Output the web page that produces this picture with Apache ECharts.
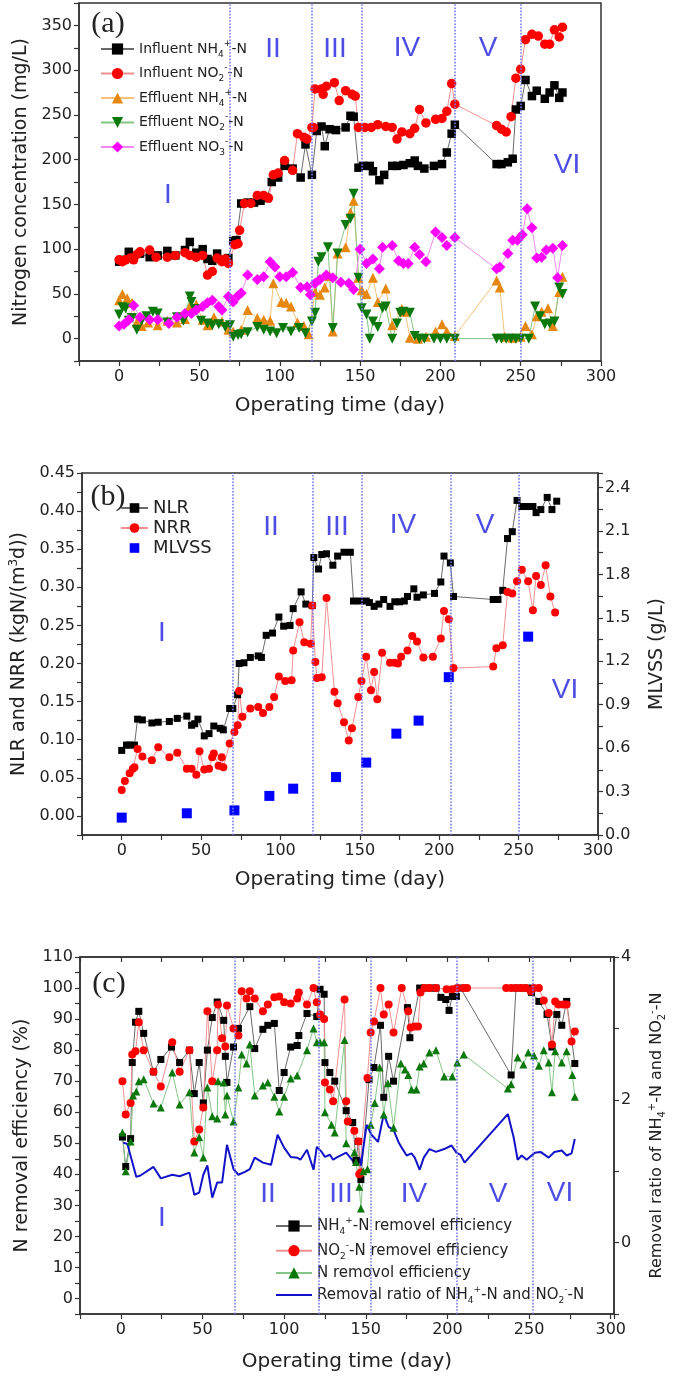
<!DOCTYPE html>
<html><head><meta charset="utf-8">
<script src="https://cdn.jsdelivr.net/npm/echarts@6/dist/echarts.min.js"></script>
<style>html,body{margin:0;padding:0;background:#fff}#c{width:675px;height:1377px}</style>
</head><body><div id="c"></div>
<script>
// ---------- Panel (a) data: [day, mg/L] ----------
const infNH4 = [[0,86],[3,88],[6,97],[9,92],[13,95],[19,91],[24,93],[30,98],[35,93],[41,99],[44,108],[48,96],[52,100],[55,89],[58,87],[61,95],[64,88],[68,90],[71,109],[73,110],[76,151],[80,152],[84,152],[88,154],[92,157],[95,175],[99,180],[103,193],[108,190],[113,180],[116,217],[120,183],[123,232],[126,237],[128,215],[131,234],[135,233],[141,236],[144,249],[146,248],[149,191],[152,193],[156,193],[158,187],[162,177],[165,183],[170,193],[173,193],[177,194],[181,196],[184,199],[186,193],[190,190],[196,193],[201,195],[204,208],[207,229],[209,239],[235,195],[238,195],[242,197],[245,201],[247,256],[250,260],[253,289],[257,271],[260,277],[265,268],[268,275],[271,283],[274,269],[276,275]];
const infNO2 = [[0,88],[2,86],[4,88],[7,90],[9,88],[11,94],[13,97],[19,99],[23,91],[30,91],[35,93],[41,96],[44,93],[48,91],[52,93],[55,71],[58,75],[61,90],[64,86],[66,89],[68,84],[72,105],[74,106],[75,121],[78,151],[82,151],[86,160],[90,160],[93,157],[96,183],[99,185],[103,199],[108,188],[111,229],[115,225],[117,223],[120,236],[121,236],[122,279],[126,279],[127,273],[129,282],[134,286],[137,266],[141,277],[145,273],[147,271],[149,236],[153,236],[157,236],[161,239],[166,237],[170,236],[173,223],[176,231],[181,229],[184,235],[187,256],[191,241],[197,245],[201,246],[204,254],[207,285],[209,262],[235,238],[238,234],[241,231],[244,248],[247,291],[250,301],[253,334],[257,340],[261,338],[265,329],[268,329],[271,345],[274,337],[276,348]];
const effNH4 = [[0,43],[2,50],[5,45],[8,40],[11,18],[14,14],[18,18],[24,15],[30,20],[36,18],[41,22],[44,36],[48,38],[52,21],[55,15],[59,24],[64,19],[68,10],[71,8],[76,10],[80,32],[86,23],[90,21],[94,20],[96,62],[101,41],[104,40],[107,36],[111,18],[115,14],[118,5],[122,52],[125,49],[128,57],[131,70],[133,8],[136,95],[141,102],[144,141],[146,154],[149,68],[151,54],[154,50],[158,68],[161,41],[166,56],[170,15],[176,33],[178,30],[181,1],[186,0],[191,2],[197,8],[201,16],[204,8],[209,3],[235,65],[237,57],[240,2],[245,1],[250,2],[253,14],[257,5],[260,25],[263,30],[267,34],[270,14],[274,52],[276,69]];
const effNO2 = [[0,27],[2,35],[4,34],[6,20],[8,23],[11,10],[14,20],[17,25],[21,30],[24,28],[30,18],[36,24],[40,20],[44,47],[45,41],[47,33],[51,20],[55,17],[58,15],[62,16],[66,13],[69,15],[71,2],[74,4],[76,5],[80,7],[86,13],[90,10],[94,8],[98,6],[102,12],[107,8],[112,12],[116,6],[120,19],[122,29],[124,86],[126,91],[130,102],[133,12],[136,95],[141,127],[144,134],[146,162],[149,68],[151,34],[154,27],[156,0],[158,19],[161,13],[164,34],[166,36],[170,0],[173,17],[175,29],[177,30],[181,29],[184,3],[187,0],[190,0],[196,0],[200,0],[204,0],[209,0],[235,0],[238,0],[241,0],[244,0],[247,0],[250,0],[255,0],[259,36],[262,25],[265,16],[268,17],[271,19],[274,57],[276,50]];
const effNO3 = [[0,14],[3,16],[6,21],[9,37],[13,24],[19,21],[24,21],[31,17],[36,24],[41,28],[45,28],[48,32],[52,36],[55,40],[58,43],[62,36],[64,32],[68,47],[71,41],[74,48],[76,51],[80,71],[86,66],[90,69],[94,86],[97,80],[100,69],[104,69],[108,74],[113,57],[117,58],[119,49],[122,62],[125,66],[129,71],[133,68],[138,63],[143,62],[146,55],[150,100],[154,84],[158,89],[162,78],[164,102],[170,104],[174,87],[177,84],[180,84],[184,102],[187,94],[191,86],[197,119],[201,113],[204,104],[209,113],[235,78],[237,80],[242,95],[245,110],[248,110],[251,116],[254,145],[257,124],[260,90],[263,91],[266,99],[270,101],[273,68],[276,104]];

// ---------- Panel (b) data ----------
const NLR = [[0,0.086],[3,0.093],[5,0.093],[8,0.093],[10,0.127],[13,0.126],[19,0.122],[23,0.123],[30,0.124],[35,0.128],[41,0.131],[44,0.119],[46,0.121],[48,0.127],[52,0.105],[55,0.108],[58,0.118],[62,0.115],[64,0.113],[68,0.141],[70,0.141],[73,0.159],[74,0.2],[77,0.201],[81,0.208],[86,0.21],[88,0.208],[91,0.237],[95,0.24],[99,0.261],[102,0.249],[106,0.25],[108,0.272],[113,0.294],[116,0.278],[120,0.276],[121,0.339],[124,0.324],[126,0.343],[129,0.344],[133,0.329],[136,0.341],[140,0.346],[144,0.346],[146,0.282],[150,0.282],[154,0.282],[156,0.28],[159,0.275],[162,0.278],[165,0.284],[169,0.275],[172,0.281],[175,0.281],[178,0.282],[180,0.288],[184,0.298],[186,0.287],[190,0.29],[197,0.292],[201,0.307],[203,0.341],[207,0.332],[209,0.288],[234,0.284],[237,0.284],[240,0.296],[243,0.364],[246,0.373],[249,0.414],[252,0.406],[255,0.406],[259,0.406],[261,0.398],[264,0.402],[268,0.418],[271,0.402],[274,0.413]];
const NRR = [[0,0.034],[2,0.046],[5,0.056],[7,0.062],[8,0.064],[10,0.088],[13,0.078],[19,0.073],[23,0.09],[30,0.077],[35,0.083],[41,0.062],[44,0.062],[47,0.054],[49,0.085],[52,0.061],[55,0.062],[57,0.077],[58,0.082],[61,0.066],[63,0.077],[64,0.064],[68,0.095],[71,0.11],[73,0.119],[74,0.164],[76,0.13],[81,0.141],[86,0.143],[89,0.135],[93,0.143],[96,0.156],[99,0.183],[103,0.177],[107,0.178],[108,0.217],[112,0.254],[115,0.228],[119,0.226],[120,0.276],[122,0.202],[123,0.181],[126,0.182],[129,0.286],[134,0.163],[136,0.148],[140,0.123],[143,0.099],[145,0.115],[149,0.156],[151,0.177],[154,0.209],[157,0.165],[159,0.189],[161,0.153],[164,0.214],[169,0.201],[172,0.201],[174,0.2],[176,0.209],[180,0.217],[183,0.236],[186,0.229],[190,0.208],[196,0.209],[201,0.233],[203,0.269],[206,0.258],[209,0.194],[234,0.196],[236,0.22],[240,0.224],[243,0.294],[246,0.292],[249,0.308],[252,0.323],[256,0.308],[259,0.27],[261,0.315],[264,0.303],[267,0.329],[270,0.288],[273,0.267]];
const MLVSS = [[0,0.12],[41,0.15],[71,0.17],[93,0.27],[108,0.32],[135,0.40],[154,0.50],[173,0.70],[187,0.79],[206,1.09],[256,1.37]];

// ---------- Panel (c) data ----------
const remNH4 = [[1,52],[3,42.5],[6,51.5],[7,76],[9,89],[11,92.5],[14,85.4],[20,73],[24.5,77],[31,81],[36,76],[42,80],[45,66],[48,76],[50.5,63],[53,80],[56,90.5],[59,95.5],[63,89.6],[64,78],[65,69.6],[69,81],[72,87],[79,94],[82,80.5],[87,86.7],[90,88],[94,88.6],[97,67],[100,72.8],[104,81],[108,81.5],[109,84.7],[114,91.8],[120,90.8],[122,99.6],[124.5,98],[125,76],[128,72.8],[131,70],[138,60.5],[142,56.7],[144,44.5],[145.5,50.6],[147,38.3],[152,70.5],[155,74.4],[159,88],[161,64.8],[164,78],[167,70],[175.5,93.7],[177,84],[183,100],[186,100],[190,100],[193,100],[196,97],[199,96.3],[201,92.8],[203,97.3],[205.5,97.3],[208,100],[239,72],[242,100],[246,100],[250,100],[251.5,98.6],[256,95.7],[261,91.5],[264,81],[267,91.5],[270,88],[273,95.7],[278,75.7]];
const remNO2 = [[1,70],[3,59.3],[6,63],[7,78.6],[9,79.6],[11,89],[14,80],[20,73],[24.5,68.3],[31.5,82.5],[36,73],[42,80],[45,50.6],[48,54.4],[50.5,61.5],[53,92.5],[56,70],[59,80],[59.5,94.7],[62,83.8],[64,81.2],[65,94.4],[69,87],[72,84.7],[74,99],[77,96.6],[79,99],[82,96.6],[87,92.5],[90,94.7],[94,97],[97,97.3],[100,95.4],[104,95],[108,96.6],[109,98.6],[114,94.7],[118,100],[120,95.4],[122,91.5],[124.5,90],[125,69.6],[128,67.3],[130,63.5],[137,96.3],[138,63.5],[139,57],[143,54],[145.5,50.6],[146,40],[147,40.6],[151,71],[153,85.7],[155,89.2],[159,100],[161,91.5],[164,94.7],[167,85.7],[172,100],[176,92.5],[177.5,87.3],[180,87.6],[182,87.6],[183.5,98.6],[186,100],[189,100],[193,100],[199.5,99.6],[203,99.6],[206,100],[210,100],[212,100],[236,100],[239,100],[242,100],[245,100],[248,100],[251,99],[253,100],[256,100],[259,96],[262,92],[264,81.8],[266,95.7],[268,94.7],[271,94.7],[273,94.7],[276,82.8],[278,86]];
const remN = [[1,53.5],[3,41],[6,50.6],[7.5,65.4],[9.5,66.7],[11,70],[14,70.6],[20,62.8],[24.5,61.5],[31.5,72.8],[36,62.5],[42,66.4],[45,47],[48,51.9],[50.5,45.4],[53,68],[56,58.7],[59,58],[59.5,70],[63,69.6],[64,59.3],[65,65.4],[69,57],[72,68],[74,78.6],[77,75.7],[79,81.8],[82,65.4],[87,68.6],[90,69.6],[94,65],[97,60.2],[100,65],[104,70.9],[108,71.8],[114,80],[118,87],[120,82.5],[122,82.5],[124.5,82.5],[125,60],[129,56],[131,53.5],[137,83.3],[138,50],[143,47],[144,44],[146,36],[147,29],[148.5,41],[151,41.6],[153,56],[155.5,63],[158.5,74.4],[161,59.3],[163.5,69.3],[167,55],[171.5,75.7],[174,73.8],[176,72],[178,67.3],[181,67.3],[183,74.7],[185.5,75.7],[189,79.2],[193,80],[198,71.5],[203,71.5],[206,76],[210,78.6],[237,67.6],[239,69],[243,77.6],[246.5,75.4],[249.5,79.2],[253,78.3],[256,75],[259,80],[262,76],[264,66.4],[266,79.6],[270,76],[273,79.6],[276.5,72],[278,65]];
const ratio = [[1.5,1.40],[4,1.38],[9.5,0.92],[12,0.94],[20,1.06],[24.5,0.9],[31.5,0.95],[36,0.93],[42,0.98],[45,0.67],[48,0.7],[50.5,0.95],[53,1.08],[56,0.63],[59,0.84],[62,0.84],[65,1.37],[69,1.03],[72,0.95],[76,0.99],[79,1.03],[82,1.19],[87,1.12],[92,1.09],[96,1.51],[100,1.33],[104,1.2],[108,1.19],[110,1.16],[114,1.3],[118,1.02],[120,1.34],[123,1.27],[125,1.2],[128,1.23],[130,1.16],[132,1.19],[138,1.26],[143,1.12],[146,1.19],[147,1.08],[150.5,1.65],[153.5,1.51],[157.5,1.41],[161,1.8],[164,1.62],[167,1.58],[170,1.41],[172,1.33],[175,1.22],[178,1.25],[180,1.19],[183,1.02],[185.5,1.19],[189,1.31],[193,1.27],[198,1.31],[202.5,1.36],[205.5,1.26],[208,1.23],[210.5,1.12],[237,1.8],[240.5,1.48],[243,1.16],[245.5,1.22],[248.5,1.16],[253.5,1.26],[257,1.27],[262,1.19],[265.5,1.27],[270,1.29],[273,1.22],[276,1.25],[278,1.45]];

// phase boundaries (day) and phase names
const boundsA = [69, 120, 151, 209, 250];
const boundsB = [70, 120.5, 151, 207, 250];
const boundsC = [69.5, 121.5, 153, 205.5, 252];
const phases = ['I','II','III','IV','V','VI'];

// ---------- styling ----------
const FONT = 'DejaVu Sans';
const AXC = '#333';
function rich(fs, lh) {
  return {
    n: {fontFamily: FONT, fontSize: fs, lineHeight: lh, color: '#222'},
    sub: {fontFamily: FONT, fontSize: Math.round(fs*0.62), lineHeight: Math.round(fs*0.7), verticalAlign: 'bottom', color: '#222'},
    sup: {fontFamily: FONT, fontSize: Math.round(fs*0.62), lineHeight: Math.round(fs*0.7), verticalAlign: 'top', color: '#222'}
  };
}
const LEG = {
  'Influent NH4+-N': '{n|Influent NH}{sub|4}{sup|+}{n|-N}',
  'Influent NO2--N': '{n|Influent NO}{sub|2}{sup|-}{n|-N}',
  'Effluent NH4+-N': '{n|Effluent NH}{sub|4}{sup|+}{n|-N}',
  'Effluent NO2--N': '{n|Effluent NO}{sub|2}{sup|-}{n|-N}',
  'Effluent NO3--N': '{n|Effluent NO}{sub|3}{sup|-}{n|-N}',
  'NLR': '{n|NLR}', 'NRR': '{n|NRR}', 'MLVSS': '{n|MLVSS}',
  'NH4+-N removel efficiency': '{n|NH}{sub|4}{sup|+}{n|-N removel efficiency}',
  'NO2--N removel efficiency': '{n|NO}{sub|2}{sup|-}{n|-N removel efficiency}',
  'N removol efficiency': '{n|N removol efficiency}',
  'Removal ratio of NH4+-N and NO2--N': '{n|Removal ratio of NH}{sub|4}{sup|+}{n|-N and NO}{sub|2}{sup|-}{n|-N}'
};

const every = (step) => (v) => (Math.abs(Math.round(v*1000) % Math.round(step*1000)) === 0 ? String(v) : '');
function xAxisFor(grid, max) {
  return {
    type: 'value', gridIndex: grid, min: -25, max: max, interval: 25,
    name: 'Operating time (day)', nameLocation: 'middle', nameGap: grid === 2 ? 38 : 35,
    nameTextStyle: {fontFamily: FONT, fontSize: 20, color: '#222'},
    axisLine: {show: true, onZero: false, lineStyle: {color: AXC, width: 1.5}},
    axisTick: {show: true, length: 5, lineStyle: {color: AXC, width: 1.2}},
    axisLabel: {fontFamily: FONT, fontSize: 16, color: '#222', margin: 8, formatter: every(50)},
    splitLine: {show: false}
  };
}
function yAxisBase(grid, o) {
  return Object.assign({
    type: 'value', gridIndex: grid, nameLocation: 'middle',
    nameTextStyle: {fontFamily: FONT, fontSize: 19, color: '#222'},
    axisLine: {show: true, onZero: false, lineStyle: {color: AXC, width: 1.5}},
    axisTick: {show: true, length: 5, lineStyle: {color: AXC, width: 1.2}},
    splitLine: {show: false}
  }, o);
}
const lbl = (fmt) => ({fontFamily: FONT, fontSize: 16, color: '#222', margin: 7, formatter: fmt});

function ser(name, data, xi, yi, sym, size, color, lineColor, extra) {
  return Object.assign({
    name, type: 'line', data, xAxisIndex: xi, yAxisIndex: yi,
    symbol: sym, symbolSize: size, showSymbol: true,
    itemStyle: {color: color, borderWidth: 0},
    lineStyle: {color: lineColor, width: 1},
    emphasis: {disabled: true}, silent: true, animation: false
  }, extra || {});
}
function marks(bounds) {
  return {
    silent: true, symbol: ['none','none'], label: {show: false},
    lineStyle: {color: '#7878ee', type: 'dotted', width: 1.6},
    data: bounds.map(d => ({xAxis: d})), animation: false
  };
}

const BLK = '#000', BLKL = '#6a6a6a', RED = '#ff0000', REDL = '#f29090', ORG = '#e6870f', ORGL = '#f5c27a',
      GRN = '#0b780b', GRNL = '#85c685', MAG = '#ff00ff', MAGL = '#f08af0', BLU = '#1212c8';

const series = [
  ser('Influent NH4+-N', infNH4, 0, 0, 'rect', 8.5, BLK, BLKL, {markLine: marks(boundsA)}),
  ser('Influent NO2--N', infNO2, 0, 0, 'circle', 9.5, RED, REDL),
  ser('Effluent NH4+-N', effNH4, 0, 0, 'triangle', 10, ORG, ORGL),
  ser('Effluent NO2--N', effNO2, 0, 0, 'triangle', 10, GRN, GRNL, {symbolRotate: 180}),
  ser('Effluent NO3--N', effNO3, 0, 0, 'diamond', 11, MAG, MAGL),

  ser('NLR', NLR, 1, 1, 'rect', 7, BLK, BLKL, {markLine: marks(boundsB)}),
  ser('NRR', NRR, 1, 1, 'circle', 8, RED, REDL),
  ser('MLVSS', MLVSS, 1, 2, 'rect', 10, '#0000ff', '#0000ff', {lineStyle: {width: 0, opacity: 0}}),

  ser('NH4+-N removel efficiency', remNH4, 2, 3, 'rect', 7, BLK, BLKL, {markLine: marks(boundsC)}),
  ser('NO2--N removel efficiency', remNO2, 2, 3, 'circle', 8, RED, REDL),
  ser('N removol efficiency', remN, 2, 3, 'triangle', 8, GRN, GRNL),
  ser('Removal ratio of NH4+-N and NO2--N', ratio, 2, 4, 'none', 0, BLU, BLU, {showSymbol: false, lineStyle: {color: BLU, width: 2}})
];

function legend(names, left, top, itemW, itemH, gap, fs, lh) {
  return {
    data: names, orient: 'vertical', left: left, top: top, itemWidth: itemW, itemHeight: itemH,
    itemGap: gap, padding: 0, selectedMode: false,
    formatter: (n) => LEG[n], textStyle: {rich: rich(fs, lh)}
  };
}

const phaseColor = '#4d4de6';
function phaseText(t, x, y) {
  return {type: 'text', x: x, y: y, silent: true,
    style: {text: t, fontSize: 28, fontFamily: 'Liberation Sans', fill: phaseColor, align: 'center', verticalAlign: 'middle', textAlign: 'center', textVerticalAlign: 'middle'}};
}
function panelTag(t, x, y) {
  return {type: 'text', x: x, y: y, silent: true,
    style: {text: t, fontSize: 30, fontFamily: 'Liberation Serif', fill: '#222', align: 'center', verticalAlign: 'middle', textAlign: 'center', textVerticalAlign: 'middle'}};
}
const phasePosA = [[168,195],[273,49],[335,49],[407,48],[488,48],[567,165]];
const phasePosB = [[162,633],[271,527],[337,527],[403,525],[485,525],[565,690]];
const phasePosC = [[162,1218],[268,1194],[341,1194],[414,1194],[498,1194],[560,1193]];

const graphic = []
  .concat(phases.map((p,i) => phaseText(p, phasePosA[i][0], phasePosA[i][1])))
  .concat(phases.map((p,i) => phaseText(p, phasePosB[i][0], phasePosB[i][1])))
  .concat(phases.map((p,i) => phaseText(p, phasePosC[i][0], phasePosC[i][1])))
  .concat([panelTag('(a)', 108, 24), panelTag('(b)', 108, 497), panelTag('(c)', 109, 984)]);

const gridStyle = {show: true, borderColor: AXC, borderWidth: 1.5, backgroundColor: 'transparent'};
const legC = ['NH4+-N removel efficiency','NO2--N removel efficiency','N removol efficiency',
  {name: 'Removal ratio of NH4+-N and NO2--N', itemStyle: {opacity: 0}}];
const option = {
  animation: false,
  grid: [
    Object.assign({left: 79, top: 3, width: 522, height: 358}, gridStyle),
    Object.assign({left: 79, top: 473, width: 523, height: 362}, gridStyle),
    Object.assign({left: 80, top: 957, width: 535, height: 357}, gridStyle)
  ],
  xAxis: [
    xAxisFor(0, 300), xAxisFor(1, 300), xAxisFor(2, 302),
    {type: 'value', gridIndex: 2, position: 'top', min: -25, max: 302, interval: 25,
     axisLine: {show: true, onZero: false, lineStyle: {color: AXC, width: 1.5}},
     axisTick: {show: true, inside: true, length: 5, lineStyle: {color: AXC, width: 1.2}},
     axisLabel: {show: false}, splitLine: {show: false}}
  ],
  yAxis: [
    yAxisBase(0, {min: -25, max: 375, interval: 25, name: 'Nitrogen concentration (mg/L)', nameGap: 47,
      axisLabel: lbl(every(50))}),
    yAxisBase(1, {min: -0.025, max: 0.45, interval: 0.025, name: '{n|NLR and NRR (kgN/(m}{sup|3}{n|d))}', nameGap: 47,
      nameTextStyle: {rich: rich(19, 22)},
      axisLabel: lbl(v => { const k = Math.round(v*1000); return (k % 50 === 0) ? (k/1000).toFixed(2) : ''; })}),
    yAxisBase(1, {position: 'right', min: 0, max: 2.5, interval: 0.15, name: 'MLVSS (g/L)', nameGap: 50, nameRotate: 90,
      axisLabel: lbl(v => { const k = Math.round(v*100); return (k % 30 === 0) ? (k/100).toFixed(1) : ''; })}),
    yAxisBase(2, {min: -5, max: 110, interval: 5, name: 'N removal efficiency (%)', nameGap: 48,
      axisLabel: lbl(every(10))}),
    yAxisBase(2, {position: 'right', min: -1, max: 4, interval: 1, name: LEG['Removal ratio of NH4+-N and NO2--N'], nameGap: 33, nameRotate: 90,
      nameTextStyle: {rich: rich(16, 20)},
      axisLabel: lbl(every(2))})
  ],
  legend: [
    legend(['Influent NH4+-N','Influent NO2--N','Effluent NH4+-N','Effluent NO2--N','Effluent NO3--N'], 100, 39, 33, 14, 4.5, 14, 20),
    legend(['NLR','NRR','MLVSS'], 120, 499, 27, 12, 2, 18, 22),
    legend(legC, 275, 1216, 36, 14, 4.7, 15, 20)
  ],
  graphic: graphic,
  series: series
};
const chart = echarts.init(document.getElementById('c'), null, {renderer: 'canvas'});
chart.setOption(option);
</script></body></html>
